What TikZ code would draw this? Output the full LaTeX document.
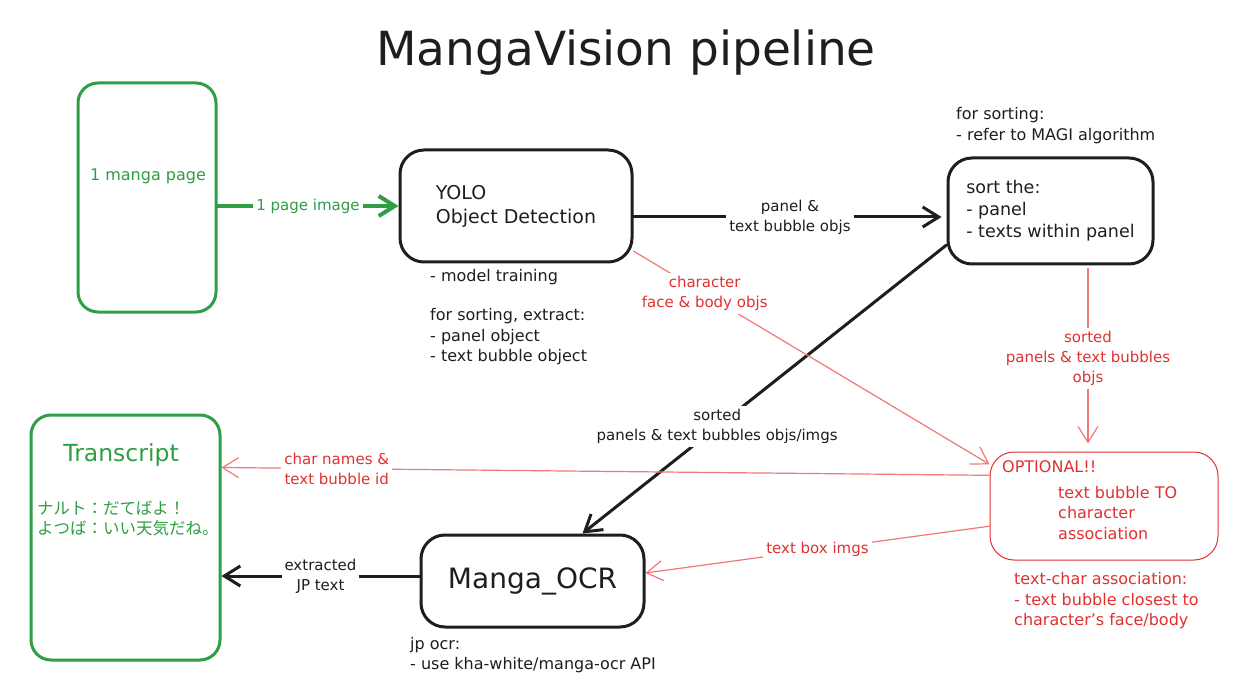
\documentclass[tikz,border=0pt]{standalone}
\usepackage{fontspec}
\setmainfont{DejaVu Sans}
\newfontfamily\jpfont{Noto Sans CJK JP}
\usetikzlibrary{arrows.meta}
\definecolor{inkblack}{HTML}{1E1E1E}
\definecolor{inkgreen}{HTML}{2F9E44}
\definecolor{inkred}{HTML}{E03131}
\definecolor{linered}{HTML}{F27878}
\tikzset{
  blackbox/.style={draw=inkblack, line width=3pt, rounded corners=24pt, text=inkblack},
  greenbox/.style={draw=inkgreen, line width=3pt, rounded corners=20pt},
  redbox/.style={draw=inkred, line width=1pt, rounded corners=24pt},
  note/.style={font=\fontsize{16}{20.5}\selectfont, align=left, inner sep=0pt, anchor=north west, text=inkblack},
  rednote/.style={note, text=inkred},
  greentext/.style={font=\fontsize{16}{20}\selectfont, text=inkgreen},
  lbl/.style={fill=white, font=\fontsize{15}{20}\selectfont, align=center, inner sep=3pt, text=inkblack},
  greenline/.style={draw=inkgreen, line width=4pt},
  blackline/.style={draw=inkblack, line width=3pt},
  redline/.style={draw=linered, line width=1.2pt},
  barb/.style={-{Straight Barb[length=16pt, width=20pt]}}
}
\begin{document}
\begin{tikzpicture}[x=1pt, y=-1pt, line cap=round, line join=round]
  \useasboundingbox[fill=white] (0,0) rectangle (1240,687);

  \node[font=\fontsize{47}{56}\selectfont, text=inkblack] (title) at (626,53) {MangaVision pipeline};

  \node[greenbox, minimum width=138pt, minimum height=229pt] (page) at (147,197.5) {};
  \node[greentext] (pagetxt) at (148,176) {1 manga page};

  \node[blackbox, minimum width=232pt, minimum height=112pt, font=\fontsize{19}{24}\selectfont, align=left] (yolo) at (516,206) {YOLO\\Object Detection};
  \node[note] (yolonote) at (430,269) {- model training\\[19pt]for sorting, extract:\\- panel object\\- text bubble object};

  \node[blackbox, minimum width=205pt, minimum height=106pt, font=\fontsize{17.5}{22}\selectfont, align=left] (sort) at (1050.5,211) {sort the:\\- panel\\- texts within panel};
  \node[note] (sortnote) at (956,107.5) {for sorting:\\- refer to MAGI algorithm};

  \node[redbox, minimum width=228pt, minimum height=108pt] (assoc) at (1104,506) {};
  \node[rednote, anchor=west] (assoctitle) at (1002,467) {OPTIONAL!!};
  \node[rednote] (assoctxt) at (1058,486) {text bubble TO\\character\\association};
  \node[rednote] (assocnote) at (1014,572.5) {text-char association:\\- text bubble closest to\\character's face/body};

  \node[blackbox, minimum width=223pt, minimum height=92pt, font=\fontsize{28}{34}\selectfont] (ocr) at (532.5,581) {Manga\_OCR};
  \node[note] (ocrnote) at (410,637) {jp ocr:\\- use kha-white/manga-ocr API};

  \node[greenbox, minimum width=189pt, minimum height=245pt] (script) at (125.5,537.5) {};
  \node[greentext, font=\fontsize{23.5}{28}\selectfont] (scripttitle) at (121,455) {Transcript};
  \node[greentext, font=\jpfont\fontsize{16.5}{20}\selectfont, align=left, anchor=west, inner sep=0pt] (scriptlines) at (37,518) {ナルト：だてばよ！\\よつば：いい天気だね。};

  \coordinate (sortout) at ([xshift=37.5pt]sort.south);
  \coordinate (ocrout) at ([yshift=5pt]ocr.west);

  \draw[greenline, barb] (page.east |- yolo.west) to node[lbl, text=inkgreen] (pagelbl) {1 page image} (yolo.west);
  \draw[blackline, barb, shorten >=5pt] ([yshift=-11pt]yolo.east) to node[lbl] (yololbl) {panel \&\\text bubble objs} ([yshift=-6pt]sort.west);
  \draw[blackline, barb] ([yshift=-34pt]sort.west) to node[lbl, pos=0.63] (sortlbl) {sorted\\panels \& text bubbles objs/imgs} ([xshift=50pt]ocr.north);
  \draw[redline, barb, shorten <=3pt, shorten >=8pt] (sortout) to node[lbl, text=inkred] (sortredlbl) {sorted\\panels \& text bubbles\\objs} (sortout |- assoc.north);
  \draw[redline, barb] (yolo.-21) to node[lbl, text=inkred, pos=0.2] (charlbl) {character\\face \& body objs} (assoc.160);
  \draw[redline, barb] (assoc.165) to node[lbl, text=inkred, pos=0.85] (namelbl) {char names \&\\text bubble id} ([yshift=70pt]script.east);
  \draw[redline, barb] (assoc.190) to node[lbl, text=inkred] (boxlbl) {text box imgs} ([yshift=8pt]ocr.east);
  \draw[blackline, barb] (ocrout) to node[lbl] (ocrlbl) {extracted\\JP text} (script.east |- ocrout);
\end{tikzpicture}
\end{document}
